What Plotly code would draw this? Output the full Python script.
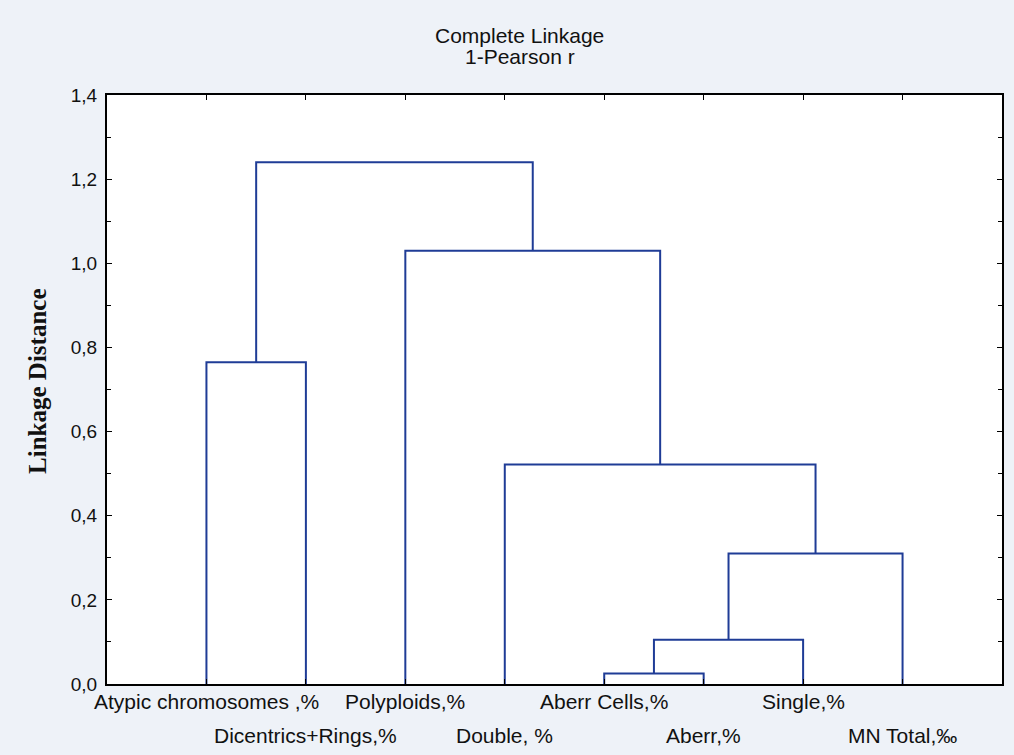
import plotly.graph_objects as go

# Leaves in dendrogram order
leaf_labels = ["Atypic chromosomes ,%", "Dicentrics+Rings,%", "Polyploids,%", "Double, %",
               "Aberr Cells,%", "Aberr,%", "Single,%", "MN Total,‰"]
# Merges: (left node, right node, linkage distance); nodes 0..7 are leaves, 8+ are clusters
merge_left = [4, 8, 0, 9, 3, 2, 10]
merge_right = [5, 6, 1, 7, 11, 12, 13]
merge_height = [0.025, 0.105, 0.765, 0.31, 0.522, 1.03, 1.24]
title_lines = ["Complete Linkage", "1-Pearson r"]
y_title = "Linkage Distance"

leaf_x = list(range(1, len(leaf_labels) + 1))

pos = {i: (leaf_x[i], 0.0) for i in range(len(leaf_labels))}
seg_x, seg_y = [], []
n = len(leaf_labels)
for k, (a, b, h) in enumerate(zip(merge_left, merge_right, merge_height)):
    xa, ya = pos[a]
    xb, yb = pos[b]
    seg_x += [xa, xa, xb, xb, None]
    seg_y += [ya, h, h, yb, None]
    pos[n + k] = ((xa + xb) / 2, h)

SANS = "Liberation Sans, Arial"
BG = "#eef2f8"
fig = go.Figure()
fig.add_trace(go.Scatter(x=seg_x, y=seg_y, mode="lines",
                         line=dict(color="#1f3c96", width=2), hoverinfo="skip",
                         showlegend=False))

for i, (lab, x) in enumerate(zip(leaf_labels, leaf_x)):
    fig.add_annotation(x=x, y=0, xref="x", yref="y", text=lab, showarrow=False,
                       yanchor="top", yshift=-4 if i % 2 == 0 else -38,
                       font=dict(family=SANS, size=21, color="#111"))

for j, t in enumerate(title_lines):
    fig.add_annotation(x=0.461, y=1, xref="paper", yref="paper", text=t,
                       showarrow=False, xanchor="center", yanchor="bottom",
                       yshift=46 - 21 * j,
                       font=dict(family=SANS, size=21, color="#111"))

fig.add_annotation(x=-0.077, y=0.513, xref="paper", yref="paper",
                   text="<b>" + y_title + "</b>", textangle=-90, showarrow=False,
                   xanchor="center", yanchor="middle",
                   font=dict(family="Liberation Serif, Times New Roman", size=25,
                             color="#111"))

fig.update_layout(
    width=1014, height=755,
    paper_bgcolor=BG, plot_bgcolor="white",
    margin=dict(l=107, r=12, t=95, b=71),
    separators=",.",
    xaxis=dict(range=[0, 9], tickvals=leaf_x, showticklabels=False, ticks="inside",
               ticklen=5, tickcolor="black", showgrid=False, zeroline=False,
               showline=True, linecolor="black", linewidth=2, mirror="ticks",
               automargin=False),
    yaxis=dict(range=[0, 1.4], dtick=0.2, tickformat=".1f", ticks="inside", ticklen=5,
               tickcolor="black", showgrid=False, zeroline=False, showline=True,
               linecolor="black", linewidth=2, mirror="ticks", automargin=False,
               ticklabelstandoff=4,
               minor=dict(dtick=0.1, ticks="inside", ticklen=4, tickcolor="black"),
               tickfont=dict(family=SANS, size=19, color="#111")),
)

fig.write_html("out.html",
               config={"displayModeBar": False},
               post_script="document.body.style.margin='0';"
                           "document.body.style.background='" + BG + "';")
